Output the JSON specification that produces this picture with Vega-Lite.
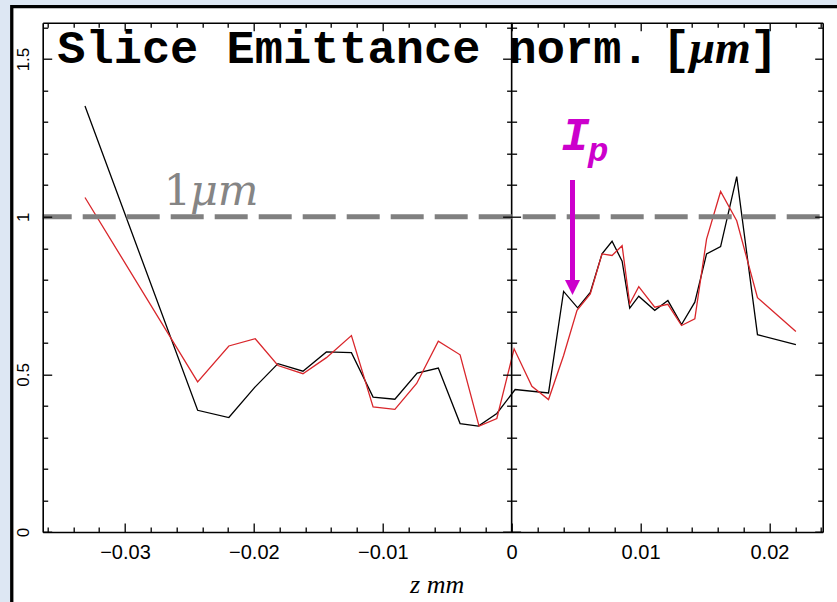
{
  "$schema": "https://vega.github.io/schema/vega-lite/v6.json",
  "width": 780,
  "height": 509.3,
  "autosize": {"type": "none"},
  "padding": {"left": 42.7, "top": 22.7, "right": 14.3, "bottom": 70},
  "background": "#dde7f3",
  "config": {
    "view": {"stroke": null},
    "axis": {
      "grid": false, "domainColor": "black", "domainWidth": 1.6,
      "tickColor": "black", "tickWidth": 1.3, "labelFont": "Liberation Sans",
      "labelColor": "black", "labelOverlap": false, "labelBound": false, "labelFlush": false
    }
  },
  "datasets": {
    "emittance": [
      {"series": "black", "z": -0.0331, "e": 1.351},
      {"series": "black", "z": -0.02436, "e": 0.386},
      {"series": "black", "z": -0.02194, "e": 0.363},
      {"series": "black", "z": -0.01995, "e": 0.458},
      {"series": "black", "z": -0.01813, "e": 0.534},
      {"series": "black", "z": -0.01619, "e": 0.51},
      {"series": "black", "z": -0.01437, "e": 0.571},
      {"series": "black", "z": -0.01243, "e": 0.569},
      {"series": "black", "z": -0.01075, "e": 0.428},
      {"series": "black", "z": -0.00906, "e": 0.421},
      {"series": "black", "z": -0.00733, "e": 0.504},
      {"series": "black", "z": -0.00569, "e": 0.52},
      {"series": "black", "z": -0.004, "e": 0.344},
      {"series": "black", "z": -0.00258, "e": 0.336},
      {"series": "black", "z": -0.00115, "e": 0.376},
      {"series": "black", "z": 0.00027, "e": 0.452},
      {"series": "black", "z": 0.00286, "e": 0.441},
      {"series": "black", "z": 0.00403, "e": 0.763},
      {"series": "black", "z": 0.00512, "e": 0.711},
      {"series": "black", "z": 0.0061, "e": 0.76},
      {"series": "black", "z": 0.00701, "e": 0.882},
      {"series": "black", "z": 0.00779, "e": 0.922},
      {"series": "black", "z": 0.00857, "e": 0.859},
      {"series": "black", "z": 0.00916, "e": 0.71},
      {"series": "black", "z": 0.00986, "e": 0.748},
      {"series": "black", "z": 0.0111, "e": 0.703},
      {"series": "black", "z": 0.01212, "e": 0.734},
      {"series": "black", "z": 0.01318, "e": 0.658},
      {"series": "black", "z": 0.01421, "e": 0.729},
      {"series": "black", "z": 0.01512, "e": 0.882},
      {"series": "black", "z": 0.01621, "e": 0.905},
      {"series": "black", "z": 0.01746, "e": 1.127},
      {"series": "black", "z": 0.01907, "e": 0.626},
      {"series": "black", "z": 0.02205, "e": 0.594},
      {"series": "red", "z": -0.0331, "e": 1.061},
      {"series": "red", "z": -0.02436, "e": 0.476},
      {"series": "red", "z": -0.02194, "e": 0.59},
      {"series": "red", "z": -0.01989, "e": 0.613},
      {"series": "red", "z": -0.01813, "e": 0.528},
      {"series": "red", "z": -0.01619, "e": 0.502},
      {"series": "red", "z": -0.01437, "e": 0.553},
      {"series": "red", "z": -0.01243, "e": 0.623},
      {"series": "red", "z": -0.01075, "e": 0.397},
      {"series": "red", "z": -0.00906, "e": 0.389},
      {"series": "red", "z": -0.00737, "e": 0.471},
      {"series": "red", "z": -0.00569, "e": 0.605},
      {"series": "red", "z": -0.004, "e": 0.562},
      {"series": "red", "z": -0.00253, "e": 0.336},
      {"series": "red", "z": -0.00115, "e": 0.36},
      {"series": "red", "z": 0.00019, "e": 0.581},
      {"series": "red", "z": 0.00157, "e": 0.462},
      {"series": "red", "z": 0.00286, "e": 0.42},
      {"series": "red", "z": 0.00403, "e": 0.56},
      {"series": "red", "z": 0.00507, "e": 0.703},
      {"series": "red", "z": 0.0061, "e": 0.755},
      {"series": "red", "z": 0.00701, "e": 0.882},
      {"series": "red", "z": 0.00779, "e": 0.877},
      {"series": "red", "z": 0.00857, "e": 0.908},
      {"series": "red", "z": 0.00916, "e": 0.724},
      {"series": "red", "z": 0.00986, "e": 0.778},
      {"series": "red", "z": 0.0111, "e": 0.713},
      {"series": "red", "z": 0.01212, "e": 0.722},
      {"series": "red", "z": 0.01318, "e": 0.655},
      {"series": "red", "z": 0.01421, "e": 0.676},
      {"series": "red", "z": 0.01512, "e": 0.929},
      {"series": "red", "z": 0.01621, "e": 1.08},
      {"series": "red", "z": 0.01746, "e": 0.987},
      {"series": "red", "z": 0.01907, "e": 0.743},
      {"series": "red", "z": 0.02205, "e": 0.636}
    ],
    "notes": [
      {"id": "title", "text": "Slice Emittance norm.", "x": -0.03525, "y": 1.4875},
      {"id": "bracket", "text": "[", "x": 0.01275, "y": 1.4875},
      {"id": "bracket", "text": "]", "x": 0.01957, "y": 1.4875},
      {"id": "unit", "text": "μm", "x": 0.0138, "y": 1.4875},
      {"id": "one", "text": "1", "x": -0.02593, "y": 1.0371},
      {"id": "onemu", "text": "μm", "x": -0.02496, "y": 1.0371},
      {"id": "I", "text": "I", "x": 0.00495, "y": 1.2115},
      {"id": "p", "text": "p", "x": 0.00672, "y": 1.1766},
      {"id": "arrow", "text": "", "x": 0.00472, "y": 1.1164, "y2": 0.793},
      {"id": "head", "text": "", "x": 0.00472, "y": 0.7755}
    ]
  },
  "layer": [
    {
      "data": {"values": [{}]},
      "mark": {"type": "rect", "fill": "white", "stroke": "black", "strokeWidth": 3.3},
      "encoding": {
        "x": {"datum": -0.03878, "type": "quantitative", "scale": {"domain": [-0.03638, 0.02413], "nice": false, "zero": false}, "axis": null},
        "x2": {"datum": 0.0265},
        "y": {"datum": 1.666, "type": "quantitative", "scale": {"domain": [0, 1.6153], "nice": false, "zero": false}, "axis": null},
        "y2": {"datum": -0.3}
      }
    },
    {
      "data": {"name": "emittance"},
      "transform": [{"filter": "datum.series === 'black'"}],
      "mark": {"type": "line", "color": "black", "strokeWidth": 1.3},
      "encoding": {
        "x": {"field": "z", "type": "quantitative", "scale": {"domain": [-0.03638, 0.02413], "nice": false, "zero": false},
          "axis": {"orient": "bottom", "zindex": 2,
            "values": [-0.036,-0.034,-0.032,-0.03,-0.028,-0.026,-0.024,-0.022,-0.02,-0.018,-0.016,-0.014,-0.012,-0.01,-0.008,-0.006,-0.004,-0.002,0,0.002,0.004,0.006,0.008,0.01,0.012,0.014,0.016,0.018,0.02,0.022,0.024],
            "format": "~g",
            "labelExpr": "abs(datum.value*100 - round(datum.value*100)) < 0.01 ? datum.label : ''",
            "tickSize": -9,
            "tickDash": {"condition": {"test": "abs(datum.value*100 - round(datum.value*100)) < 0.01", "value": [20, 1]}, "value": [5, 30]},
            "labelPadding": 35, "labelBaseline": "alphabetic", "labelFontSize": 20,
            "title": "z mm", "titleFont": "Liberation Serif", "titleFontStyle": "italic", "titleFontWeight": "normal",
            "titleFontSize": 26, "titleColor": "black", "titlePadding": 9, "titleX": 394}},
        "y": {"field": "e", "type": "quantitative", "scale": {"domain": [0, 1.6153], "nice": false, "zero": false},
          "axis": {"orient": "left", "zindex": 2,
            "values": [0,0.1,0.2,0.3,0.4,0.5,0.6,0.7,0.8,0.9,1,1.1,1.2,1.3,1.4,1.5,1.6],
            "format": "~g",
            "labelExpr": "abs(datum.value*2 - round(datum.value*2)) < 0.01 ? datum.label : ''",
            "tickSize": -9,
            "tickDash": {"condition": {"test": "abs(datum.value*2 - round(datum.value*2)) < 0.01", "value": [20, 1]}, "value": [5, 30]},
            "labelPadding": 23.7, "labelAngle": -90, "labelAlign": "center", "labelBaseline": "alphabetic",
            "labelFontSize": 17, "title": null}}
      }
    },
    {
      "data": {"name": "emittance"},
      "transform": [{"filter": "datum.series === 'red'"}],
      "mark": {"type": "line", "color": "#d9262b", "strokeWidth": 1.3},
      "encoding": {
        "x": {"field": "z", "type": "quantitative", "scale": {"domain": [-0.03638, 0.02413], "nice": false, "zero": false},
          "axis": {"orient": "top", "zindex": 2,
            "values": [-0.036,-0.034,-0.032,-0.03,-0.028,-0.026,-0.024,-0.022,-0.02,-0.018,-0.016,-0.014,-0.012,-0.01,-0.008,-0.006,-0.004,-0.002,0,0.002,0.004,0.006,0.008,0.01,0.012,0.014,0.016,0.018,0.02,0.022,0.024],
            "labels": false,
            "tickSize": -8,
            "tickDash": {"condition": {"test": "abs(datum.value*100 - round(datum.value*100)) < 0.01", "value": [20, 1]}, "value": [4.5, 30]},
            "title": null}},
        "y": {"field": "e", "type": "quantitative", "scale": {"domain": [0, 1.6153], "nice": false, "zero": false},
          "axis": {"orient": "right", "zindex": 2,
            "values": [0,0.1,0.2,0.3,0.4,0.5,0.6,0.7,0.8,0.9,1,1.1,1.2,1.3,1.4,1.5,1.6],
            "labels": false,
            "tickSize": -8,
            "tickDash": {"condition": {"test": "abs(datum.value*2 - round(datum.value*2)) < 0.01", "value": [20, 1]}, "value": [5, 30]},
            "title": null}}
      }
    },
    {
      "data": {"values": [{}]},
      "mark": {"type": "rule", "color": "black", "strokeWidth": 1.6},
      "encoding": {
        "x": {"datum": 0, "type": "quantitative", "axis": null}
      }
    },
    {
      "data": {"values": [{}]},
      "mark": {"type": "rule", "color": "#808080", "strokeWidth": 5, "strokeDash": [33, 11], "strokeDashOffset": 41},
      "encoding": {
        "y": {"datum": 1, "type": "quantitative",
          "axis": {"orient": "left", "offset": -468.9, "zindex": 2,
            "values": [0,0.1,0.2,0.3,0.4,0.5,0.6,0.7,0.8,0.9,1,1.1,1.2,1.3,1.4,1.5,1.6],
            "labels": false, "domain": false,
            "tickSize": 9,
            "tickDash": {"condition": {"test": "abs(datum.value*2 - round(datum.value*2)) < 0.01", "value": [20, 1]}, "value": [5, 30]},
            "title": null}}
      }
    },
    {
      "data": {"name": "notes"},
      "transform": [{"filter": "datum.id === 'arrow'"}],
      "mark": {"type": "rule", "color": "#cc00cc", "strokeWidth": 5},
      "encoding": {
        "x": {"field": "x", "type": "quantitative", "axis": null},
        "y": {"field": "y", "type": "quantitative",
          "axis": {"orient": "right", "offset": -311.1, "zindex": 2,
            "values": [0,0.1,0.2,0.3,0.4,0.5,0.6,0.7,0.8,0.9,1,1.1,1.2,1.3,1.4,1.5,1.6],
            "labels": false, "domain": false,
            "tickSize": 9,
            "tickDash": {"condition": {"test": "abs(datum.value*2 - round(datum.value*2)) < 0.01", "value": [20, 1]}, "value": [5, 30]},
            "title": null}},
        "y2": {"field": "y2"}
      }
    },
    {
      "data": {"name": "notes"},
      "transform": [{"filter": "datum.id === 'head'"}],
      "mark": {"type": "point", "shape": "M-1,-1L1,-1L0,1Z", "size": 225, "filled": true, "color": "#cc00cc", "opacity": 1},
      "encoding": {
        "x": {"field": "x", "type": "quantitative", "axis": null},
        "y": {"field": "y", "type": "quantitative", "axis": null}
      }
    },
    {
      "data": {"name": "notes"},
      "transform": [{"filter": "datum.id === 'title'"}],
      "mark": {"type": "text", "font": "Liberation Mono", "fontWeight": "bold", "fontSize": 47, "color": "black", "align": "left", "baseline": "alphabetic"},
      "encoding": {
        "x": {"field": "x", "type": "quantitative", "axis": null},
        "y": {"field": "y", "type": "quantitative", "axis": null},
        "text": {"field": "text"}
      }
    },
    {
      "data": {"name": "notes"},
      "transform": [{"filter": "datum.id === 'bracket'"}],
      "mark": {"type": "text", "font": "Liberation Mono", "fontWeight": "bold", "fontSize": 47, "color": "black", "align": "center", "baseline": "alphabetic"},
      "encoding": {
        "x": {"field": "x", "type": "quantitative", "axis": null},
        "y": {"field": "y", "type": "quantitative", "axis": null},
        "text": {"field": "text"}
      }
    },
    {
      "data": {"name": "notes"},
      "transform": [{"filter": "datum.id === 'unit'"}],
      "mark": {"type": "text", "font": "Liberation Serif", "fontWeight": "bold", "fontStyle": "italic", "fontSize": 46, "color": "black", "align": "left", "baseline": "alphabetic"},
      "encoding": {
        "x": {"field": "x", "type": "quantitative", "axis": null},
        "y": {"field": "y", "type": "quantitative", "axis": null},
        "text": {"field": "text"}
      }
    },
    {
      "data": {"name": "notes"},
      "transform": [{"filter": "datum.id === 'one'"}],
      "mark": {"type": "text", "font": "DejaVu Serif", "fontSize": 43, "color": "#858585", "align": "center", "baseline": "alphabetic"},
      "encoding": {
        "x": {"field": "x", "type": "quantitative", "axis": null},
        "y": {"field": "y", "type": "quantitative", "axis": null},
        "text": {"field": "text"}
      }
    },
    {
      "data": {"name": "notes"},
      "transform": [{"filter": "datum.id === 'onemu'"}],
      "mark": {"type": "text", "font": "DejaVu Serif", "fontStyle": "italic", "fontSize": 43, "color": "#858585", "align": "left", "baseline": "alphabetic"},
      "encoding": {
        "x": {"field": "x", "type": "quantitative", "axis": null},
        "y": {"field": "y", "type": "quantitative", "axis": null},
        "text": {"field": "text"}
      }
    },
    {
      "data": {"name": "notes"},
      "transform": [{"filter": "datum.id === 'I'"}],
      "mark": {"type": "text", "font": "Liberation Mono", "fontWeight": "bold", "fontStyle": "italic", "fontSize": 47, "color": "#cc00cc", "align": "center", "baseline": "alphabetic"},
      "encoding": {
        "x": {"field": "x", "type": "quantitative", "axis": null},
        "y": {"field": "y", "type": "quantitative", "axis": null},
        "text": {"field": "text"}
      }
    },
    {
      "data": {"name": "notes"},
      "transform": [{"filter": "datum.id === 'p'"}],
      "mark": {"type": "text", "font": "Liberation Mono", "fontWeight": "bold", "fontStyle": "italic", "fontSize": 34, "color": "#cc00cc", "align": "center", "baseline": "alphabetic"},
      "encoding": {
        "x": {"field": "x", "type": "quantitative", "axis": null},
        "y": {"field": "y", "type": "quantitative", "axis": null},
        "text": {"field": "text"}
      }
    }
  ],
  "resolve": {"axis": {"x": "independent", "y": "independent"}}
}
